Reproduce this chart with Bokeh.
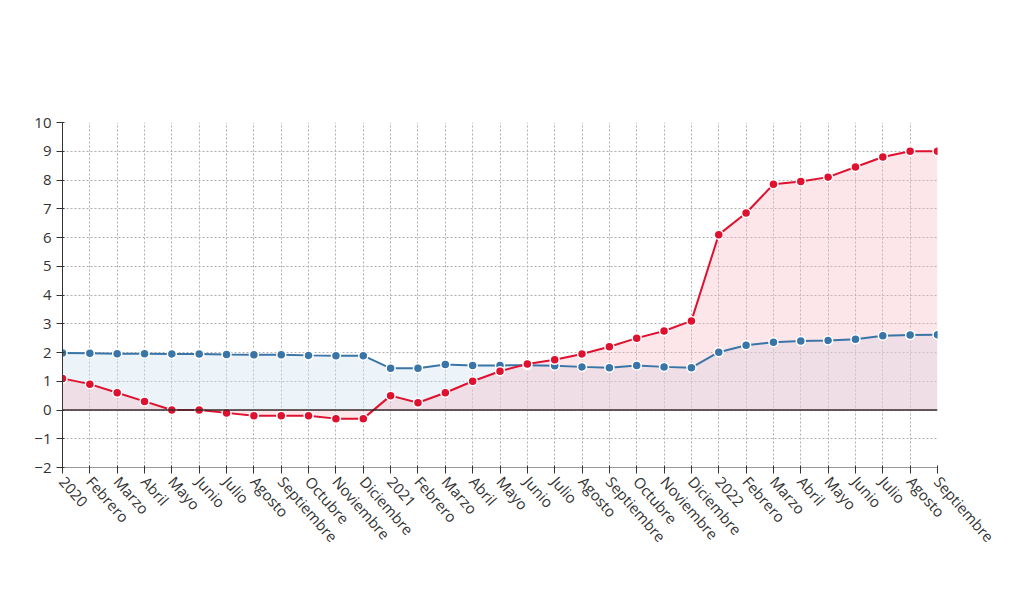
from bokeh.plotting import figure
from bokeh.models import Label, FixedTicker, Span, Range1d
from bokeh.embed import file_html
from bokeh.resources import INLINE

months = ["2020","Febrero","Marzo","Abril","Mayo","Junio","Julio","Agosto","Septiembre","Octubre","Noviembre","Diciembre",
          "2021","Febrero","Marzo","Abril","Mayo","Junio","Julio","Agosto","Septiembre","Octubre","Noviembre","Diciembre",
          "2022","Febrero","Marzo","Abril","Mayo","Junio","Julio","Agosto","Septiembre"]
ipc = [1.1,0.9,0.6,0.3,0.0,0.0,-0.1,-0.2,-0.2,-0.2,-0.3,-0.3,
       0.5,0.25,0.6,1.0,1.35,1.6,1.75,1.95,2.2,2.5,2.75,3.1,
       6.1,6.85,7.85,7.95,8.1,8.45,8.8,9.0,9.0]
sal = [1.98,1.97,1.96,1.96,1.95,1.95,1.93,1.92,1.92,1.90,1.89,1.89,
       1.45,1.45,1.58,1.55,1.55,1.56,1.54,1.50,1.47,1.55,1.50,1.47,
       2.01,2.25,2.36,2.40,2.42,2.46,2.58,2.61,2.62]
x = list(range(len(months)))
red = "#e0102f"; blue = "#3a75a8"

p = figure(width=1008, height=585, output_backend="svg", toolbar_location=None,
           x_range=Range1d(0, 32), y_range=Range1d(-2, 10),
           min_border_left=62, min_border_right=71, min_border_top=122, min_border_bottom=118)
p.outline_line_color = None
p.varea(x=x, y1=[0]*len(x), y2=sal, fill_color="#cfe0ef", fill_alpha=0.4)
p.varea(x=x, y1=[0]*len(x), y2=ipc, fill_color="#f7b6c0", fill_alpha=0.35)
p.add_layout(Span(location=0, dimension="width", line_color="#3a2a2a", line_width=1.5))
p.line(x, sal, line_color=blue, line_width=2)
p.scatter(x, sal, size=9, fill_color=blue, line_color="white", line_width=1.5)
p.line(x, ipc, line_color=red, line_width=2)
p.scatter(x, ipc, size=9, fill_color=red, line_color="white", line_width=1.5)

p.xaxis.ticker = FixedTicker(ticks=x)
p.xaxis.major_label_overrides = {i: m for i, m in enumerate(months)}
p.xaxis.major_label_orientation = -0.85
p.xaxis.major_label_text_font_size = "15px"
p.yaxis.ticker = FixedTicker(ticks=list(range(-2, 11)))
p.yaxis.major_label_text_font_size = "15px"
for ax in (p.xaxis, p.yaxis):
    ax.major_label_text_font = "Open Sans"
    ax.major_label_text_color = "#333333"
    ax.axis_line_color = "#333333"
    ax.major_tick_line_color = "#333333"
    ax.minor_tick_line_color = None
p.xaxis.axis_line_color = "#999999"
p.grid.grid_line_color = "#b0b0b0"
p.grid.grid_line_dash = "2 2"

def lab(t, x, y, size, bold=False, color="#222222", align="left"):
    p.add_layout(Label(x=x, y=y, x_units="screen", y_units="screen", text=t, text_font="Open Sans",
                       text_font_size=size, text_font_style="bold" if bold else "normal",
                       text_color=color, text_align=align))

lab("Variación de los salarios pactados en convenio VS el IPC", 450, 419, "21px", True, align="center")
lab("El dato del IPC representa la variación de la media anual acumulada", 450, 387, "16px", color="#444444", align="center")
lab("%", -37, 359, "13px", True)
lab("■", 57, -117, "16px", color=red)
lab("% de IPC", 75, -115, "13px")
lab("■", 164, -117, "16px", color=blue)
lab("% de subida de los salarios", 181, -115, "13px")
lab("Fuente: Ministerio de Trabajo y Economía Social,", 396, -115, "13px")
lab("www.epdata.es", 731, -115, "13px", True)

open("out.html", "w").write(file_html(p, INLINE))
